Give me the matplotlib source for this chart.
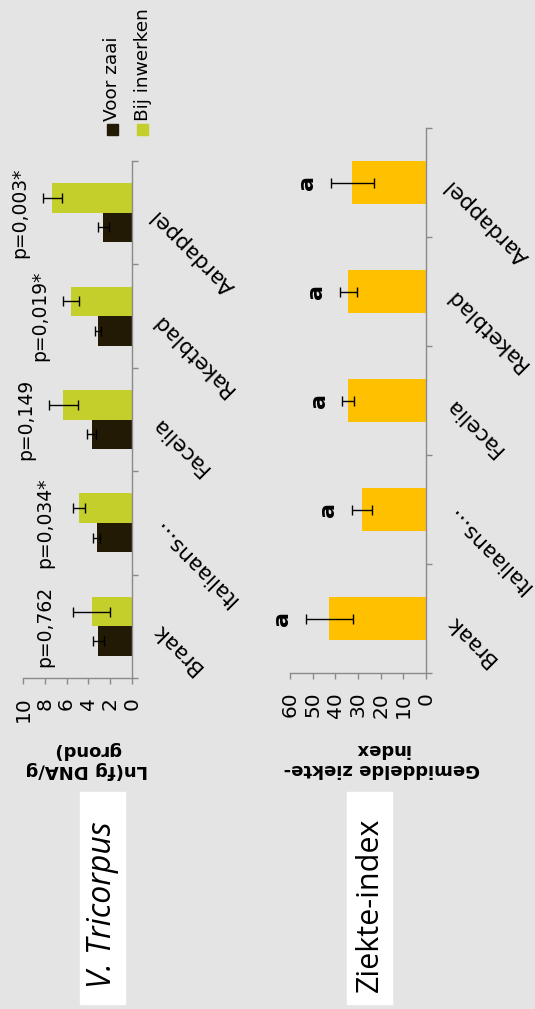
import numpy as np
import matplotlib
matplotlib.use("Agg")
import matplotlib.pyplot as plt
from matplotlib.patches import Rectangle

# ---- data -------------------------------------------------------------
categories = ["Braak", "Italiaans…", "Facelia", "Raketblad", "Aardappel"]

voor_zaai = [3.1, 3.25, 3.7, 3.1, 2.65]
voor_zaai_err = [0.5, 0.35, 0.4, 0.3, 0.5]
bij_inwerken = [3.7, 4.9, 6.3, 5.6, 7.3]
bij_inwerken_err = [1.7, 0.55, 1.35, 0.75, 0.9]
p_labels = ["p=0,762", "p=0,034*", "p=0,149", "p=0,019*", "p=0,003*"]

ziekte_index = [42.6, 28.2, 34.3, 34.3, 32.6]
ziekte_index_err = [10.5, 4.5, 2.7, 3.8, 9.5]
letters = ["a", "a", "a", "a", "a"]

dna_ticks = [0, 2, 4, 6, 8, 10]
index_ticks = [0, 10, 20, 30, 40, 50, 60]

# ---- style ------------------------------------------------------------
BG = "#e4e4e4"
DARK = "#221a05"
LIME = "#c5cf2b"
GOLD = "#ffc000"
AXIS = "#8a8a8a"
plt.rcParams["font.family"] = ["DejaVu Sans"]

W, H = 535, 1009
fig = plt.figure(figsize=(W / 100, H / 100), dpi=100, facecolor=BG)


def px_axes(x0, y0, x1, y1):
    """Axes from pixel box (top-left origin)."""
    return fig.add_axes([x0 / W, 1 - y1 / H, (x1 - x0) / W, (y1 - y0) / H])


def style_axes(ax, xmax, ticks):
    ax.set_facecolor(BG)
    ax.set_xlim(xmax, 0)
    ax.set_ylim(-0.5, len(categories) - 0.5)
    for s in ("top", "left"):
        ax.spines[s].set_visible(False)
    for s in ("bottom", "right"):
        ax.spines[s].set_color(AXIS)
        ax.spines[s].set_linewidth(1.0)
    ax.yaxis.tick_right()
    ax.set_yticks(np.arange(-0.5, len(categories), 1.0))
    ax.set_yticklabels([])
    ax.set_xticks(ticks)
    ax.set_xticklabels([str(t) for t in ticks], rotation=90, fontsize=14.5,
                       va="top", ha="center")
    ax.tick_params(axis="both", direction="out", length=4.5, width=1.0,
                   color=AXIS)
    ax.tick_params(axis="x", pad=9)
    for i, lbl in enumerate(categories):
        ax.annotate(lbl, xy=(1, i), xycoords=("axes fraction", "data"),
                    xytext=(16, 0), textcoords="offset points",
                    rotation=135, rotation_mode="anchor",
                    ha="right", va="center", fontsize=15.5)


y = np.arange(len(categories))
err_kw = dict(ecolor="black", elinewidth=1.0, capsize=3.5, capthick=1.0)

# ---- left panel: DNA --------------------------------------------------
ax1 = px_axes(23, 161, 132, 678)
style_axes(ax1, 10, dna_ticks)
h1 = 0.285
ax1.barh(y - h1 / 2, voor_zaai, height=h1, color=DARK, xerr=voor_zaai_err,
         error_kw=err_kw, zorder=2)
ax1.barh(y + h1 / 2, bij_inwerken, height=h1, color=LIME,
         xerr=bij_inwerken_err, error_kw=err_kw, zorder=2)
for i, lbl in enumerate(p_labels):
    top = max(voor_zaai[i] + voor_zaai_err[i],
              bij_inwerken[i] + bij_inwerken_err[i])
    ax1.text(max(8.0, top + 2.1), i, lbl, rotation=90, ha="center",
             va="center", fontsize=13.5, clip_on=False)

fig.text(87 / W, 1 - 760 / H, "Ln(fg DNA/g\ngrond)", rotation=180,
         ha="center", va="center", multialignment="center",
         fontsize=13, fontweight="bold", linespacing=1.15)

# legend
for (cx, label, col) in ((112, "Voor zaai", DARK), (143, "Bij inwerken", LIME)):
    fig.add_artist(Rectangle(((cx - 5.5) / W, 1 - 134.5 / H), 11 / W, 11 / H,
                             transform=fig.transFigure, color=col))
    fig.text(cx / W, 1 - 121 / H, label, rotation=90, ha="center",
             va="bottom", fontsize=13.3)

# ---- right panel: disease index ---------------------------------------
ax2 = px_axes(290, 128, 426, 673)
style_axes(ax2, 60, index_ticks)
ax2.barh(y, ziekte_index, height=0.4, color=GOLD, xerr=ziekte_index_err,
         error_kw=err_kw, zorder=2)
for i, lbl in enumerate(letters):
    top = ziekte_index[i] + ziekte_index_err[i]
    ax2.annotate(lbl, xy=(top, i), xytext=(-17, 0), textcoords="offset points",
                 rotation=90, ha="center", va="center", fontsize=16,
                 fontweight="bold", annotation_clip=False)

fig.text(382 / W, 1 - 759 / H, "Gemiddelde ziekte-\nindex", rotation=180,
         ha="center", va="center", multialignment="center",
         fontsize=13, fontweight="bold", linespacing=1.15)

# ---- panel titles in white boxes --------------------------------------
for (x0, x1, title, style, size) in ((80, 125, "V. Tricorpus", "italic", 23),
                                     (347, 392, "Ziekte-index", "normal", 22)):
    fig.add_artist(Rectangle((x0 / W, 1 - 1004 / H), (x1 - x0) / W, 212 / H,
                             transform=fig.transFigure, color="white"))
    fig.text((x0 + x1) / 2 / W, 1 - 905 / H, title, rotation=90,
             ha="center", va="center", fontsize=size, style=style,
             family=["Open Sans", "DejaVu Sans"])

fig.savefig("out.png", dpi=100, facecolor=BG)
